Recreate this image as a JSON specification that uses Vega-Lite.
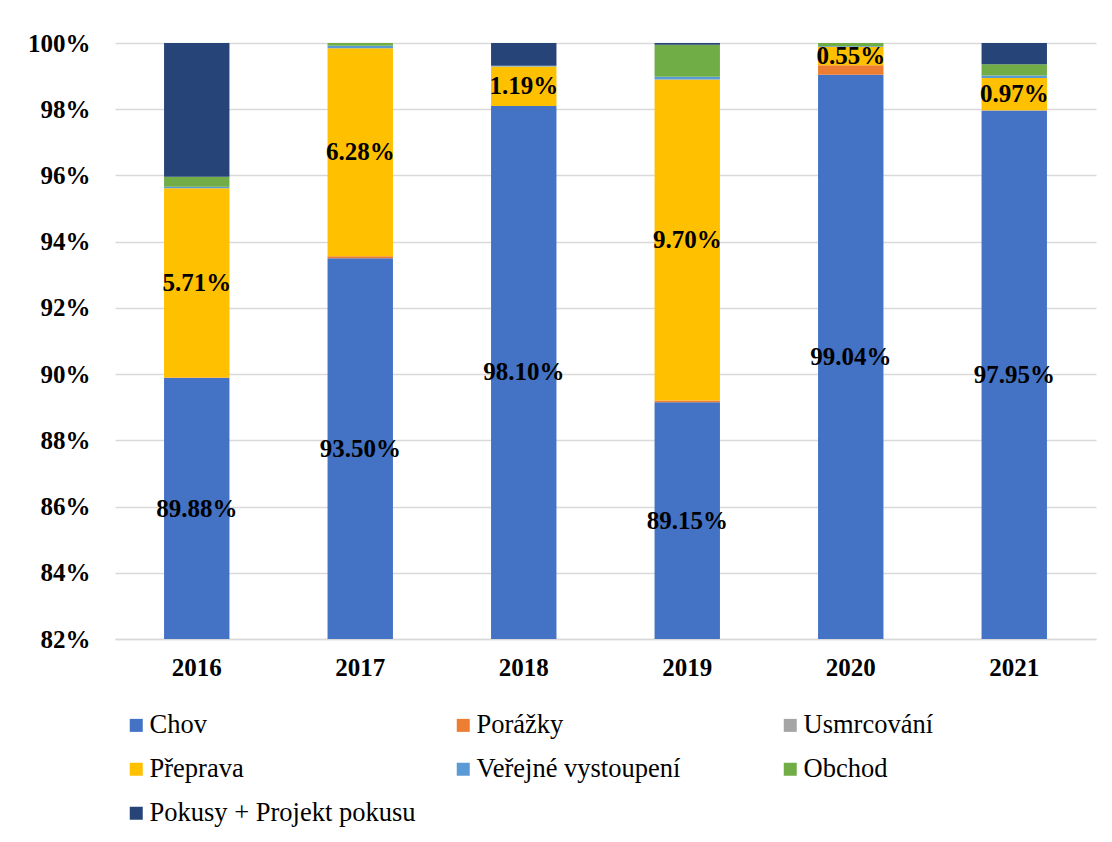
{
  "$schema": "https://vega.github.io/schema/vega-lite/v6.json",
  "width": 981,
  "height": 596,
  "autosize": {"type": "none"},
  "padding": {"left": 115, "top": 43, "right": 16, "bottom": 203},
  "background": "white",
  "config": {
    "view": {"stroke": null},
    "font": "Liberation Serif"
  },
  "data": {
    "values": [
      {"year": "2016", "cat": "Chov", "v": 89.88},
      {"year": "2016", "cat": "Porážky", "v": 0.02},
      {"year": "2016", "cat": "Přeprava", "v": 5.71},
      {"year": "2016", "cat": "Veřejné vystoupení", "v": 0.05},
      {"year": "2016", "cat": "Obchod", "v": 0.30},
      {"year": "2016", "cat": "Pokusy + Projekt pokusu", "v": 4.04},
      {"year": "2017", "cat": "Chov", "v": 93.50},
      {"year": "2017", "cat": "Porážky", "v": 0.06},
      {"year": "2017", "cat": "Přeprava", "v": 6.28},
      {"year": "2017", "cat": "Veřejné vystoupení", "v": 0.08},
      {"year": "2017", "cat": "Obchod", "v": 0.08},
      {"year": "2018", "cat": "Chov", "v": 98.10},
      {"year": "2018", "cat": "Přeprava", "v": 1.19},
      {"year": "2018", "cat": "Veřejné vystoupení", "v": 0.02},
      {"year": "2018", "cat": "Pokusy + Projekt pokusu", "v": 0.69},
      {"year": "2019", "cat": "Chov", "v": 89.15},
      {"year": "2019", "cat": "Porážky", "v": 0.05},
      {"year": "2019", "cat": "Přeprava", "v": 9.70},
      {"year": "2019", "cat": "Veřejné vystoupení", "v": 0.08},
      {"year": "2019", "cat": "Obchod", "v": 0.97},
      {"year": "2019", "cat": "Pokusy + Projekt pokusu", "v": 0.05},
      {"year": "2020", "cat": "Chov", "v": 99.04},
      {"year": "2020", "cat": "Porážky", "v": 0.29},
      {"year": "2020", "cat": "Přeprava", "v": 0.55},
      {"year": "2020", "cat": "Veřejné vystoupení", "v": 0.02},
      {"year": "2020", "cat": "Obchod", "v": 0.10},
      {"year": "2021", "cat": "Chov", "v": 97.95},
      {"year": "2021", "cat": "Usmrcování", "v": 0.02},
      {"year": "2021", "cat": "Přeprava", "v": 0.97},
      {"year": "2021", "cat": "Veřejné vystoupení", "v": 0.08},
      {"year": "2021", "cat": "Obchod", "v": 0.34},
      {"year": "2021", "cat": "Pokusy + Projekt pokusu", "v": 0.64}
    ]
  },
  "transform": [
    {"calculate": "indexof(['Chov','Porážky','Usmrcování','Přeprava','Veřejné vystoupení','Obchod','Pokusy + Projekt pokusu'], datum.cat)", "as": "o"},
    {"stack": "v", "groupby": ["year"], "sort": [{"field": "o", "order": "ascending"}], "as": ["y0", "y1"]},
    {"calculate": "(max(datum.y0, 82) + datum.y1) / 2", "as": "mid"},
    {"calculate": "format(datum.v, '.2f') + '%'", "as": "lab"}
  ],
  "encoding": {
    "x": {
      "field": "year",
      "type": "nominal",
      "scale": {"paddingInner": 0.6, "paddingOuter": 0.3},
      "axis": {
        "title": null,
        "labelAngle": 0,
        "labelFont": "Liberation Serif",
        "labelFontSize": 25,
        "labelFontWeight": "bold",
        "labelColor": "black",
        "labelPadding": 16,
        "ticks": false,
        "domainColor": "#D9D9D9",
        "domainWidth": 1.5,
        "grid": false
      }
    }
  },
  "layer": [
    {
      "mark": {"type": "bar", "clip": true},
      "encoding": {
        "y": {
          "field": "y0",
          "type": "quantitative",
          "stack": null,
          "scale": {"domain": [82, 100], "nice": false, "zero": false},
          "axis": {
            "title": null,
            "values": [82, 84, 86, 88, 90, 92, 94, 96, 98, 100],
            "labelExpr": "datum.value + '%'",
            "labelFont": "Liberation Serif",
            "labelFontSize": 25,
            "labelFontWeight": "bold",
            "labelColor": "black",
            "labelPadding": 25,
            "ticks": false,
            "domain": false,
            "gridColor": "#D9D9D9",
            "gridWidth": 1.5
          }
        },
        "y2": {"field": "y1"},
        "color": {
          "field": "cat",
          "type": "nominal",
          "scale": {
            "domain": ["Chov", "Porážky", "Usmrcování", "Přeprava", "Veřejné vystoupení", "Obchod", "Pokusy + Projekt pokusu"],
            "range": ["#4472C4", "#ED7D31", "#A5A5A5", "#FFC000", "#5B9BD5", "#70AD47", "#264478"]
          },
          "legend": {
            "title": null,
            "orient": "none",
            "legendX": 8,
            "legendY": 669,
            "direction": "horizontal",
            "columns": 3,
            "gridAlign": "all",
            "columnPadding": 34,
            "rowPadding": 17,
            "padding": 0,
            "symbolType": "square",
            "symbolSize": 169,
            "symbolStrokeWidth": 0,
            "labelFont": "Liberation Serif",
            "labelFontSize": 26.5,
            "labelColor": "black",
            "labelOffset": 0,
            "labelLimit": 400
          }
        }
      }
    },
    {
      "transform": [{"filter": "datum.cat === 'Chov' || datum.cat === 'Přeprava'"}],
      "mark": {
        "type": "text",
        "font": "Liberation Serif",
        "fontSize": 25,
        "fontWeight": "bold",
        "color": "black",
        "baseline": "middle",
        "align": "center"
      },
      "encoding": {
        "y": {"field": "mid", "type": "quantitative"},
        "text": {"field": "lab"}
      }
    }
  ]
}
